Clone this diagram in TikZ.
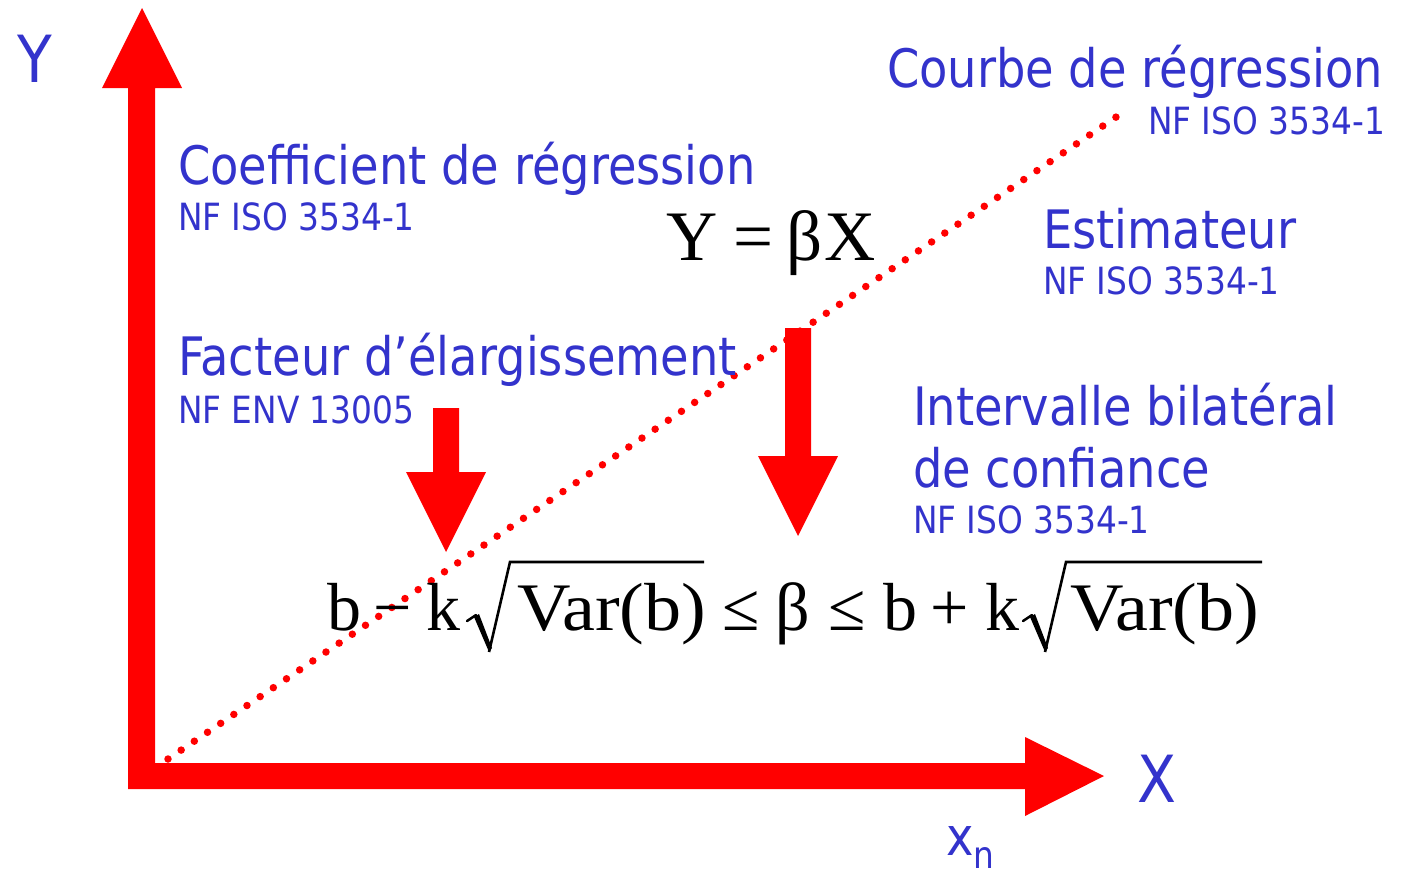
\RequirePackage{fix-cm}
\documentclass[tikz,border=0pt]{standalone}
\usepackage{fontspec}
\setmainfont{DejaVu Sans}[FakeStretch=0.875]
\newfontfamily\timesfont{Liberation Serif}
\usepackage{tikz}
\usetikzlibrary{positioning}
\definecolor{labelblue}{RGB}{51, 51, 204}
\definecolor{axisred}{RGB}{255, 0, 0}

% one unit = one pixel of the slide, y runs downwards
\newcommand{\dnarrow}[3]{% centre x, top y, tip y
  \fill[axisred] (#1-13,#2) -- (#1+13,#2) -- (#1+13,#3-80) -- (#1+40,#3-80)
    -- (#1,#3) -- (#1-40,#3-80) -- (#1-13,#3-80) -- cycle;}
% root sign from x = #1, bar up to x = #2
\newcommand{\rootsign}[2]{%
  \draw[line width=2.5pt, line cap=round] (#1,621) -- (#1+9,615);
  \fill (#1+7,617) -- (#1+12,614) -- (#1+25,648) -- (#1+22,652) -- cycle;
  \draw[line width=2.6pt, line join=miter] (#1+22,652) -- (#1+43,562) -- (#2,562);}
% a glyph in a box of fixed width
\newcommand{\slot}[2]{\makebox[#1pt][l]{#2}}
\newcommand{\varterm}{\scalebox{1.09}[1]{Var(b)}}

\begin{document}
\begin{tikzpicture}[x=1pt, y=-1pt,
  every node/.style={inner sep=0pt, outer sep=0pt, anchor=base west},
  term/.style={text=labelblue, font=\fontsize{53}{60}\selectfont},
  norm/.style={text=labelblue, font=\fontsize{37.5}{44}\selectfont},
  axlabel/.style={text=labelblue, font=\fontsize{65}{70}\selectfont},
  formula/.style={text=black, font=\timesfont\fontsize{68}{76}\selectfont}]

\useasboundingbox (0,0) rectangle (1405,868);

% Axes
\fill[axisred] (128,789) -- (128,88) -- (102,88) -- (142,8) -- (182,88)
  -- (155,88) -- (155,763) -- (1025,763) -- (1025,737) -- (1104,776)
  -- (1025,816) -- (1025,789) -- cycle;
\node[axlabel] (ylab) at (17,82) {Y};
\node[axlabel] (xlab) at (1137,802) {X};
\node[term] (xn) at (946,855) {x\raisebox{-13pt}{\fontsize{37.5}{44}\selectfont n}};

% Regression line
\coordinate (orig) at (168,759);
\coordinate (tip) at (1125,111);
\draw[axisred, line width=7.5pt, line cap=round, dash pattern=on 0pt off 15.9pt] (orig) -- (tip);

% Labels
\node[term] (courbe) at (887,87) {Courbe de régression};
\node[norm, anchor=base east] (courbeiso) at (1385,134) {NF ISO 3534-1};
\node[term] (coef) at (178,184) {Coefficient de régression};
\node[norm] (coefiso) at (178,230) {NF ISO 3534-1};
\node[term] (estim) at (1043,248) {Estimateur};
\node[norm] (estimiso) at (1043,294) {NF ISO 3534-1};
\node[term] (facteur) at (178,375) {Facteur d’élargissement};
\node[norm] (facteuriso) at (178,423) {NF ENV 13005};
\node[term] (interv) at (913,425) {Intervalle bilatéral};
\node[term] (conf) at (913,487) {de confiance};
\node[norm] (confiso) at (913,533) {NF ISO 3534-1};

% Formulas
\node[formula, font=\timesfont\fontsize{71}{78}\selectfont] (model) at (666,260)
  {\slot{68}{Y}\slot{53}{=}\slot{38}{β}X};
\node[formula] (ineq) at (327,630)
  {\slot{47}{b}\slot{53}{−}\slot{90}{k}\slot{205}{\varterm}\slot{54}{≤}\slot{53}{β}%
   \slot{55}{≤}\slot{46}{b}\slot{56}{+}\slot{84}{k}\varterm};
\rootsign{467}{704}
\rootsign{1023}{1262}

% Pointers
\dnarrow{446}{408}{552}
\dnarrow{798}{328}{536}

\end{tikzpicture}
\end{document}
